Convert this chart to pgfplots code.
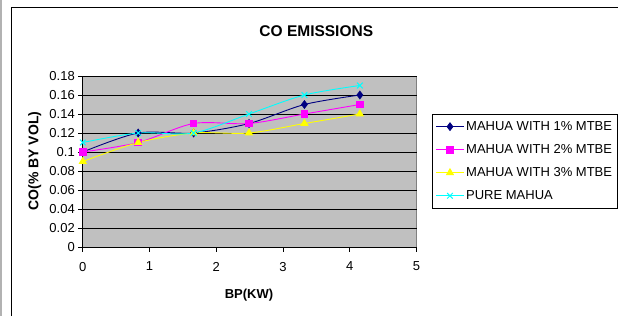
\documentclass[border=0pt]{standalone}
\usepackage{pgfplots}
\pgfplotsset{compat=1.18}
\usepackage{fontspec}
\setmainfont{Liberation Sans}
\definecolor{bggray}{RGB}{192,192,192}
\definecolor{bordergray}{RGB}{128,128,128}
\definecolor{navyc}{RGB}{0,0,128}
\definecolor{magc}{RGB}{255,0,255}
\definecolor{yelc}{RGB}{255,255,0}
\definecolor{cyac}{RGB}{0,255,255}
\begin{document}
\begin{tikzpicture}[x=1pt,y=1pt]
\useasboundingbox (0,0) rectangle (618,316);
\fill[black!30] (0,0) rectangle (1.7,316);
\draw[black,line width=1.2pt] (11.5,0) -- (11.5,308.5) -- (620,308.5);
\node[font=\fontsize{15.5}{18}\selectfont\bfseries] at (316.3,285) {CO EMISSIONS};
\node[font=\fontsize{13}{15}\selectfont\bfseries] at (249,21) {BP(KW)};
\node[font=\fontsize{14}{16}\selectfont\bfseries,rotate=90] at (34.7,155) {CO(\% BY VOL)};
\begin{axis}[
  at={(82.8pt,69pt)}, anchor=south west,
  scale only axis, width=333.8pt, height=171pt,
  xmin=0, xmax=5, ymin=0, ymax=0.18,
  xtick={0,1,2,3,4,5},
  ytick={0,0.02,0.04,0.06,0.08,0.1,0.12,0.14,0.16,0.18},
  scaled y ticks=false,
  yticklabel style={/pgf/number format/fixed,/pgf/number format/precision=2},
  /pgf/number format/assume math mode=true,
  ticklabel style={font=\fontsize{13}{15}\selectfont},
  xticklabel style={yshift=-7pt},
  axis lines*=left,
  axis line style={black,line width=0.9pt,-},
  tick style={black,line width=0.8pt},
  tick align=outside,
  major tick length=4.5pt,
  ymajorgrids,
  grid style={black,line width=0.9pt},
  axis background/.style={fill=bggray,draw=bordergray,line width=0.9pt},
  legend style={at={(1.0473,0.7778)},anchor=north west,draw=black,line width=0.8pt,
    font=\fontsize{13}{15}\selectfont,inner xsep=3pt,inner ysep=5pt,row sep=8.5pt,
    cells={anchor=west}},
  legend cell align=left,
  legend image code/.code={\draw[mark repeat=2,mark phase=2,#1] plot coordinates {(0pt,0pt) (13.75pt,0pt) (27.5pt,0pt)};},
  every axis plot/.append style={line width=0.9pt,smooth,tension=0.5},
]
\addplot[navyc,mark=diamond*,mark size=3.8pt,mark options={fill=navyc,solid}] coordinates {(0,0.10) (0.83,0.12) (1.66,0.12) (2.49,0.13) (3.32,0.15) (4.15,0.16)};
\addlegendentry{MAHUA WITH 1\% MTBE}
\addplot[magc,mark=square*,mark size=3.3pt,mark options={fill=magc,solid}] coordinates {(0,0.10) (0.83,0.11) (1.66,0.13) (2.49,0.13) (3.32,0.14) (4.15,0.15)};
\addlegendentry{MAHUA WITH 2\% MTBE}
\addplot[yelc,mark=triangle*,mark size=4pt,mark options={fill=yelc,solid}] coordinates {(0,0.09) (0.83,0.11) (1.66,0.12) (2.49,0.12) (3.32,0.13) (4.15,0.14)};
\addlegendentry{MAHUA WITH 3\% MTBE}
\addplot[cyac,mark=x,mark size=4pt,mark options={solid,line width=1pt}] coordinates {(0,0.11) (0.83,0.12) (1.66,0.12) (2.49,0.14) (3.32,0.16) (4.15,0.17)};
\addlegendentry{PURE MAHUA}
\end{axis}
\end{tikzpicture}
\end{document}
